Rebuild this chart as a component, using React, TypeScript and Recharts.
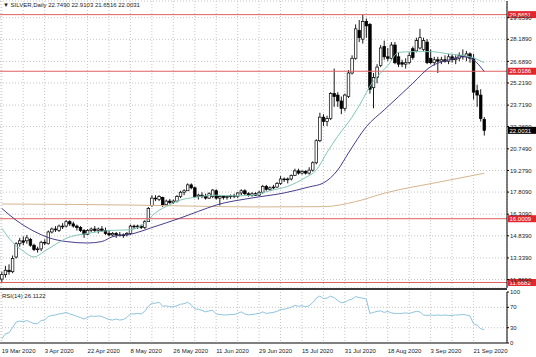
import React from 'react';
import { ComposedChart, Bar, Line, XAxis, YAxis, CartesianGrid, ReferenceLine } from 'recharts';

const FONT = '"Liberation Sans", Arial, sans-serif';

const opens = [11.9,12.2,12.5,12.4,13.4,14.3,14.5,14.5,14.6,14.2,13.9,13.95,14.4,14.3,15.1,15.3,15.2,15.5,15.5,15.8,15.65,15.5,15.4,15.2,14.95,15.2,15.3,15.2,15.3,15.2,15.0,14.9,15.0,14.9,14.85,14.9,15.0,15.5,15.45,15.5,15.4,15.8,16.9,17.4,17.3,17.45,16.95,17.2,17.1,17.2,17.5,17.8,17.9,18.3,18.1,17.5,17.6,17.5,17.4,17.5,17.9,17.4,17.5,17.45,17.5,17.55,17.5,17.75,17.9,17.7,17.6,17.7,17.6,17.8,18.2,18.0,18.1,18.15,18.4,18.7,18.65,18.7,18.95,19.25,19.1,19.2,19.1,19.3,19.8,21.3,22.9,22.6,22.8,24.5,24.4,24.0,23.5,24.3,25.9,26.9,28.8,28.2,29.4,29.2,24.9,25.6,26.4,27.7,27.0,26.9,27.8,27.0,26.6,26.5,26.6,27.55,27.4,27.6,27.5,28.0,26.9,26.6,26.8,26.7,26.8,26.7,27.0,26.8,26.9,27.1,27.0,27.2,26.9,24.7,24.4,22.749];
const highs = [12.4,12.8,12.9,13.5,14.4,14.7,14.8,14.9,14.7,14.3,14.1,14.5,14.6,15.2,15.4,15.5,15.6,15.7,15.9,15.9,15.8,15.6,15.5,15.3,15.3,15.4,15.5,15.4,15.5,15.4,15.2,15.1,15.1,15.1,15.0,15.1,15.6,15.6,15.6,15.6,15.9,16.8,17.6,17.6,17.6,17.5,17.3,17.35,17.3,17.6,17.9,18.0,18.4,18.4,18.2,17.7,17.8,17.7,17.8,18.0,18.0,17.6,17.6,17.6,17.65,17.7,17.8,18.0,18.0,17.8,17.8,17.8,17.9,18.3,18.3,18.2,18.3,18.5,18.9,18.8,18.8,19.0,19.4,19.4,19.3,19.3,19.5,19.9,21.4,23.2,23.1,23.0,24.6,26.2,24.6,24.3,24.5,26.1,27.1,29.2,29.5,29.8651,29.6,29.3,25.9,26.5,27.8,28.1,27.6,28.0,28.0,27.3,26.8,26.9,27.3,27.7,28.3,28.9,28.3,28.2,27.5,27.0,27.0,27.0,27.1,27.2,27.2,27.1,27.3,27.5,27.4,27.3,27.2,25.1,24.8,22.9103];
const lows = [11.6682,12.0,12.2,12.3,13.3,14.1,14.2,14.3,14.1,13.8,13.7,13.8,14.2,14.25,15.0,15.1,15.1,15.3,15.4,15.5,15.4,15.2,15.1,14.7,14.9,15.1,15.1,15.0,15.1,14.9,14.8,14.8,14.7,14.8,14.7,14.8,14.9,15.3,15.3,15.3,15.3,15.8,16.8,17.2,17.2,16.8,16.9,17.0,17.0,17.1,17.4,17.6,17.9,18.0,17.4,17.3,17.4,17.3,17.35,17.4,17.3,16.9,17.3,17.3,17.35,17.4,17.4,17.6,17.6,17.5,17.5,17.55,17.55,17.7,17.9,17.9,18.0,18.1,18.3,18.5,18.4,18.6,18.9,19.0,19.0,19.0,19.0,19.2,19.7,21.2,22.3,22.3,22.7,23.6,23.6,23.1,23.3,24.2,25.8,26.8,28.0,27.9,28.3,24.5,23.5,25.2,26.3,26.8,26.7,26.8,26.5,26.3,26.3,26.2,26.5,26.8,27.3,27.5,27.4,26.5,26.5,26.4,25.9,26.5,26.6,26.5,26.6,26.5,26.7,26.8,26.7,26.6,24.1,23.6,22.6,21.6516];
const closes = [12.2,12.5,12.4,13.3,14.3,14.5,14.4,14.7,14.2,13.9,13.95,14.4,14.35,15.1,15.3,15.25,15.5,15.5,15.8,15.65,15.5,15.4,15.2,14.95,15.2,15.3,15.2,15.3,15.2,15.0,14.9,15.0,14.9,14.85,14.9,15.0,15.5,15.45,15.5,15.4,15.8,16.7,17.4,17.35,17.5,16.95,17.2,17.1,17.2,17.5,17.8,17.9,18.3,18.1,17.5,17.6,17.5,17.4,17.7,17.95,17.4,17.5,17.45,17.5,17.55,17.5,17.75,17.9,17.7,17.6,17.7,17.6,17.8,18.2,18.0,18.1,18.15,18.4,18.7,18.65,18.7,18.95,19.25,19.1,19.2,19.1,19.3,19.8,21.3,22.9,22.6,22.8,24.5,24.3,24.0,23.5,24.4,25.9,26.9,28.9,28.3,29.4,29.1,24.8,25.6,26.3,27.6,27.0,26.9,27.8,26.6,26.5,26.5,26.6,27.1,26.95,28.1,28.3,28.1,26.6,26.6,26.8,26.7,26.8,26.7,27.0,26.8,26.9,27.1,27.0,27.2,26.9,24.6,24.4,22.8,22.0031];

const rsiValues = [8,18,20,30,41,43,42,44,41,38,38,44,45,52,54,55,57,58,60,57,55,52,50,47,50,53,52,53,52,49,46,45,47,45,46,50,57,57,58,57,62,72,78,78,80,72,73,71,71,73,76,77,80,75,67,66,64,61,63,64,57,56,55,55,56,56,58,61,57,55,56,57,58,61,58,59,60,62,66,66,68,70,74,72,73,71,73,79,88,92,87,88,92,89,83,79,80,84,86,91,89,88,86,58,60,62,63,60,62,59,58,58,58,59,58,60,62,61,55,54,55,54,55,54,55,54,54,55,55,56,55,53,38,35,28,26.1122];

// moving averages at sample bars: [bar index, price]
const tealPts: [number, number][] = [[0,15.35],[3,14.4],[6,13.8],[9,13.4],[12,13.8],[15,14.25],[18,14.67],[24,15.0],[30,15.2],[36,15.25],[40,15.7],[43,16.4],[47,16.95],[50,17.27],[54,17.45],[60,17.6],[65,17.55],[70,17.6],[75,17.9],[80,18.2],[85,18.8],[88,19.3],[91,20.5],[94,21.6],[98,22.9],[101,24.1],[103,25.0],[106,25.9],[108,26.4],[111,27.3],[115,27.35],[120,27.35],[125,27.2],[131,27.0],[135,26.6]];
const navyPts: [number, number][] = [[0,16.7],[4,15.9],[9,15.15],[13,14.72],[18,14.45],[24,14.35],[28,14.45],[31,14.78],[37,15.0],[42,15.4],[50,16.05],[55,16.5],[60,16.93],[70,17.41],[79,17.75],[86,18.16],[90,18.43],[94,19.31],[97,20.46],[102,22.25],[107,23.39],[111,24.29],[115,25.2],[120,26.33],[125,26.78],[129,27.01],[132,26.78],[135,26.0]];
const tanPts: [number, number][] = [[0,17.0],[20,16.97],[36,16.93],[55,16.85],[71,16.8],[90,16.82],[99,17.16],[107,17.73],[123,18.52],[135,19.09]];

const tickLabels = ['19 Mar 2020','3 Apr 2020','22 Apr 2020','8 May 2020','26 May 2020','11 Jun 2020','29 Jun 2020','15 Jul 2020','31 Jul 2020','18 Aug 2020','3 Sep 2020','21 Sep 2020'];
const priceTicks = [29.659,28.189,26.689,25.219,23.719,22.269,20.749,19.279,17.809,16.309,14.839,13.339,11.869];
const levelLines = [29.8651, 26.0186, 16.0009, 11.6682];
const lastPrice = 22.0031;
const ohlcTitle = 'SILVER,Daily  22.7490 22.9103 21.6516 22.0031';
const rsiTitle = 'RSI(14) 26.1122';

const toMap = (pts: [number, number][]) => new Map(pts.map(([i, v]) => [i, v]));
const tealMap = toMap(tealPts);
const navyMap = toMap(navyPts);
const tanMap = toMap(tanPts);

const mainRows = closes.map((c, i) => ({
  i,
  o: opens[i],
  h: highs[i],
  l: lows[i],
  c,
  range: [lows[i], highs[i]],
  teal: tealMap.has(i) ? tealMap.get(i) : null,
  navy: navyMap.has(i) ? navyMap.get(i) : null,
  tan: tanMap.has(i) ? tanMap.get(i) : null,
}));
const rsiRows = rsiValues.map((r, i) => ({ i, rsi: r }));
const gridTicks = closes.map((_, i) => i).filter((i) => i % 6 === 0);

const Candle = (props: any) => {
  const { x, y, width, height, payload } = props;
  if (!payload || height == null) return null;
  const { o, h, l, c } = payload;
  const cx = x + width / 2;
  const ppu = h - l > 0 ? height / (h - l) : 0;
  const yOf = (v: number) => y + (h - v) * ppu;
  const top = yOf(Math.max(o, c));
  const bot = yOf(Math.min(o, c));
  const bw = 2.6;
  const bull = c >= o;
  return (
    <g>
      <line x1={cx} x2={cx} y1={y} y2={y + height} stroke="#000" strokeWidth={0.9} />
      <rect x={cx - bw / 2} y={top} width={bw} height={Math.max(bot - top, 0.8)} fill={bull ? '#fff' : '#000'} stroke="#000" strokeWidth={0.7} />
    </g>
  );
};

const tag = (text: string, bg: string) => (p: any) => {
  const vb = (p && p.viewBox) || {};
  const x = (vb.x || 0) + (vb.width || 0);
  const y = vb.y || 0;
  return (
    <g>
      <rect x={x + 1} y={y - 3.5} width={28} height={7} fill={bg} />
      <text x={x + 2.5} y={y + 2.2} fontSize={6} fill="#fff" fontFamily={FONT}>{text}</text>
    </g>
  );
};

const DateTick = (props: any) => {
  const { x, y, payload } = props;
  const idx = payload ? payload.value : 0;
  if (idx % 12 !== 0) return null;
  return (
    <text x={x} y={y + 9.5} fontSize={6} fontFamily={FONT} fill="#222" textAnchor="start">
      {tickLabels[idx / 12]}
    </text>
  );
};

const axisTick = { fontSize: 6, fill: '#222', fontFamily: FONT };

export default function App() {
  return (
    <div style={{ position: 'absolute', left: 0, top: 0, width: 536, height: 357, background: '#fff', overflow: 'hidden', fontFamily: FONT }}>
      <div style={{ position: 'absolute', left: 0, top: 0 }}>
        <ComposedChart width={536} height={289} data={mainRows} margin={{ top: 1, right: 0, bottom: 1, left: 0 }}>
          <CartesianGrid stroke="#c6c6c6" strokeDasharray="1 2" />
          <XAxis dataKey="i" type="category" scale="band" hide ticks={gridTicks} interval={0} padding={{ left: 0, right: 21 }} />
          <YAxis orientation="right" width={29} type="number" domain={[11.294, 30.791]} allowDataOverflow ticks={priceTicks} interval={0} tick={axisTick} tickSize={2} tickMargin={1} tickFormatter={(v: number) => v.toFixed(4)} stroke="#000" />
          {levelLines.map((v) => (
            <ReferenceLine key={v} y={v} stroke="#e06060" strokeWidth={1} label={tag(v.toFixed(4), '#e3262d')} />
          ))}
          <ReferenceLine y={lastPrice} stroke="#000" strokeOpacity={0} label={tag(lastPrice.toFixed(4), '#000')} />
          <Bar dataKey="range" shape={<Candle />} isAnimationActive={false} />
          <Line dataKey="tan" type="monotone" stroke="#d6b48e" strokeWidth={1} dot={false} connectNulls isAnimationActive={false} />
          <Line dataKey="navy" type="monotone" stroke="#483d8b" strokeWidth={1} dot={false} connectNulls isAnimationActive={false} />
          <Line dataKey="teal" type="monotone" stroke="#80c6b8" strokeWidth={1} dot={false} connectNulls isAnimationActive={false} />
        </ComposedChart>
      </div>
      <div style={{ position: 'absolute', left: 3, top: 2, fontSize: 6, lineHeight: '6px', color: '#222', whiteSpace: 'nowrap' }}>
        {'\u25BC ' + ohlcTitle}
      </div>
      <div style={{ position: 'absolute', left: 0, top: 288, width: 507, height: 2, background: '#3a3a3a' }} />
      <div style={{ position: 'absolute', left: 0, top: 289 }}>
        <ComposedChart width={536} height={68} data={rsiRows} margin={{ top: 3, right: 0, bottom: 0, left: 0 }}>
          <CartesianGrid stroke="#c6c6c6" strokeDasharray="1 2" horizontal={false} />
          <XAxis dataKey="i" type="category" scale="band" ticks={gridTicks} interval={0} padding={{ left: 0, right: 21 }} height={14} tick={<DateTick />} tickSize={0} tickMargin={0} stroke="#000" />
          <YAxis orientation="right" width={29} type="number" domain={[0, 100]} ticks={[0, 30, 70, 100]} interval={0} tick={axisTick} tickSize={2} tickMargin={1} stroke="#000" />
          <ReferenceLine y={30} stroke="#c6c6c6" strokeDasharray="1 2" />
          <ReferenceLine y={70} stroke="#c6c6c6" strokeDasharray="1 2" />
          <Line dataKey="rsi" type="linear" stroke="#8fc3de" strokeWidth={1} dot={false} isAnimationActive={false} />
        </ComposedChart>
      </div>
      <div style={{ position: 'absolute', left: 2, top: 293, fontSize: 6, lineHeight: '6px', color: '#222', whiteSpace: 'nowrap' }}>
        {rsiTitle}
      </div>
    </div>
  );
}
